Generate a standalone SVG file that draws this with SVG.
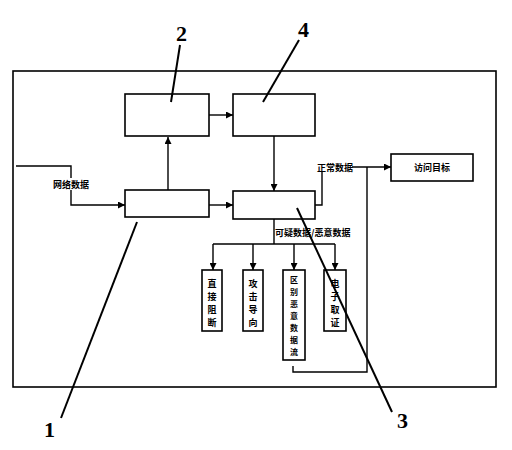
<svg xmlns="http://www.w3.org/2000/svg" width="512" height="450" viewBox="0 0 512 450">
<defs>
<marker id="ar" viewBox="0 0 8 8" refX="8" refY="4" markerWidth="5" markerHeight="5" orient="auto"><path d="M0,0 L8,4 L0,8 z" fill="#000"/></marker>
<style>
.b{fill:#fff;stroke:#000;stroke-width:1.6}
.l{fill:none;stroke:#000;stroke-width:1.4}
.t{font-family:"Noto Sans CJK SC","Noto Sans",sans-serif;font-size:9px;font-weight:bold;fill:#000}
.v{font-family:"Noto Sans CJK SC","Noto Sans",sans-serif;font-size:9px;font-weight:bold;fill:#000;text-anchor:middle}
.vs{font-family:"Noto Sans CJK SC","Noto Sans",sans-serif;font-size:8px;font-weight:bold;fill:#000;text-anchor:middle}
.n{font-family:"Liberation Serif",serif;font-size:22px;font-weight:bold;fill:#000}
.ld{fill:none;stroke:#000;stroke-width:2}
</style>
</defs>
<rect width="512" height="450" fill="#fff"/>
<rect x="13" y="71" width="483" height="316" class="b" fill="none"/>
<g id="connectors">
<polyline class="l" points="16,166 71,166 71,205 125,205" marker-end="url(#ar)"/>
<line class="l" x1="168" y1="190" x2="168" y2="137" marker-end="url(#ar)"/>
<line class="l" x1="209" y1="115" x2="233" y2="115" marker-end="url(#ar)"/>
<line class="l" x1="274" y1="136" x2="274" y2="191" marker-end="url(#ar)"/>
<line class="l" x1="209" y1="205" x2="233" y2="205" marker-end="url(#ar)"/>
<polyline class="l" points="315,205 322,205 322,172"/>
<line class="l" x1="352" y1="167" x2="391" y2="167" marker-end="url(#ar)"/>
<polyline class="l" points="367,167 367,372 293,372 293,366"/>
<polyline class="l" points="274,219 274,244"/>
<line class="l" x1="213" y1="244" x2="335" y2="244"/>
<line class="l" x1="213" y1="244" x2="213" y2="270" marker-end="url(#ar)"/>
<line class="l" x1="253" y1="244" x2="253" y2="270" marker-end="url(#ar)"/>
<line class="l" x1="294" y1="244" x2="294" y2="270" marker-end="url(#ar)"/>
<line class="l" x1="335" y1="244" x2="335" y2="270" marker-end="url(#ar)"/>
</g>
<g id="labels">
<rect x="52" y="178" width="37" height="12" fill="#fff"/>
<text class="t" x="53" y="188">网络数据</text>
<text class="t" x="317" y="171">正常数据</text>
<text class="t" x="275" y="236">可疑数据/恶意数据</text>
</g>
<g id="node2"><rect class="b" x="125" y="94" width="84" height="42"/></g>
<g id="node4"><rect class="b" x="233" y="94" width="82" height="42"/></g>
<g id="node1"><rect class="b" x="125" y="190" width="84" height="27"/></g>
<g id="node3"><rect class="b" x="233" y="191" width="82" height="28"/></g>
<g id="target"><rect class="b" x="391" y="154" width="82" height="27"/><text class="t" x="432" y="171" text-anchor="middle">访问目标</text></g>
<g id="block"><rect class="b" x="202" y="270" width="20" height="61"/><text class="v"><tspan x="212" y="287">直</tspan><tspan x="212" y="300">接</tspan><tspan x="212" y="313">阻</tspan><tspan x="212" y="326">断</tspan></text></g>
<g id="redirect"><rect class="b" x="243" y="270" width="20" height="61"/><text class="v"><tspan x="253" y="287">攻</tspan><tspan x="253" y="300">击</tspan><tspan x="253" y="313">导</tspan><tspan x="253" y="326">向</tspan></text></g>
<g id="distinguish"><rect class="b" x="283" y="270" width="22" height="90"/><text class="vs"><tspan x="294" y="283">区</tspan><tspan x="294" y="295">别</tspan><tspan x="294" y="307">恶</tspan><tspan x="294" y="319">意</tspan><tspan x="294" y="331">数</tspan><tspan x="294" y="343">据</tspan><tspan x="294" y="355">流</tspan></text></g>
<g id="forensics"><rect class="b" x="324" y="270" width="22" height="61"/><text class="v"><tspan x="335" y="287">电</tspan><tspan x="335" y="300">子</tspan><tspan x="335" y="313">取</tspan><tspan x="335" y="326">证</tspan></text></g>
<g id="leaders">
<line class="ld" x1="180" y1="45" x2="171" y2="102"/>
<line class="ld" x1="299" y1="40" x2="263" y2="102"/>
<line class="ld" x1="61" y1="418" x2="137" y2="222"/>
<line class="ld" x1="297" y1="208" x2="392" y2="412"/>
<text class="n" x="176" y="41">2</text>
<text class="n" x="298" y="37">4</text>
<text class="n" x="44" y="437">1</text>
<text class="n" x="397" y="428">3</text>
</g>
</svg>
